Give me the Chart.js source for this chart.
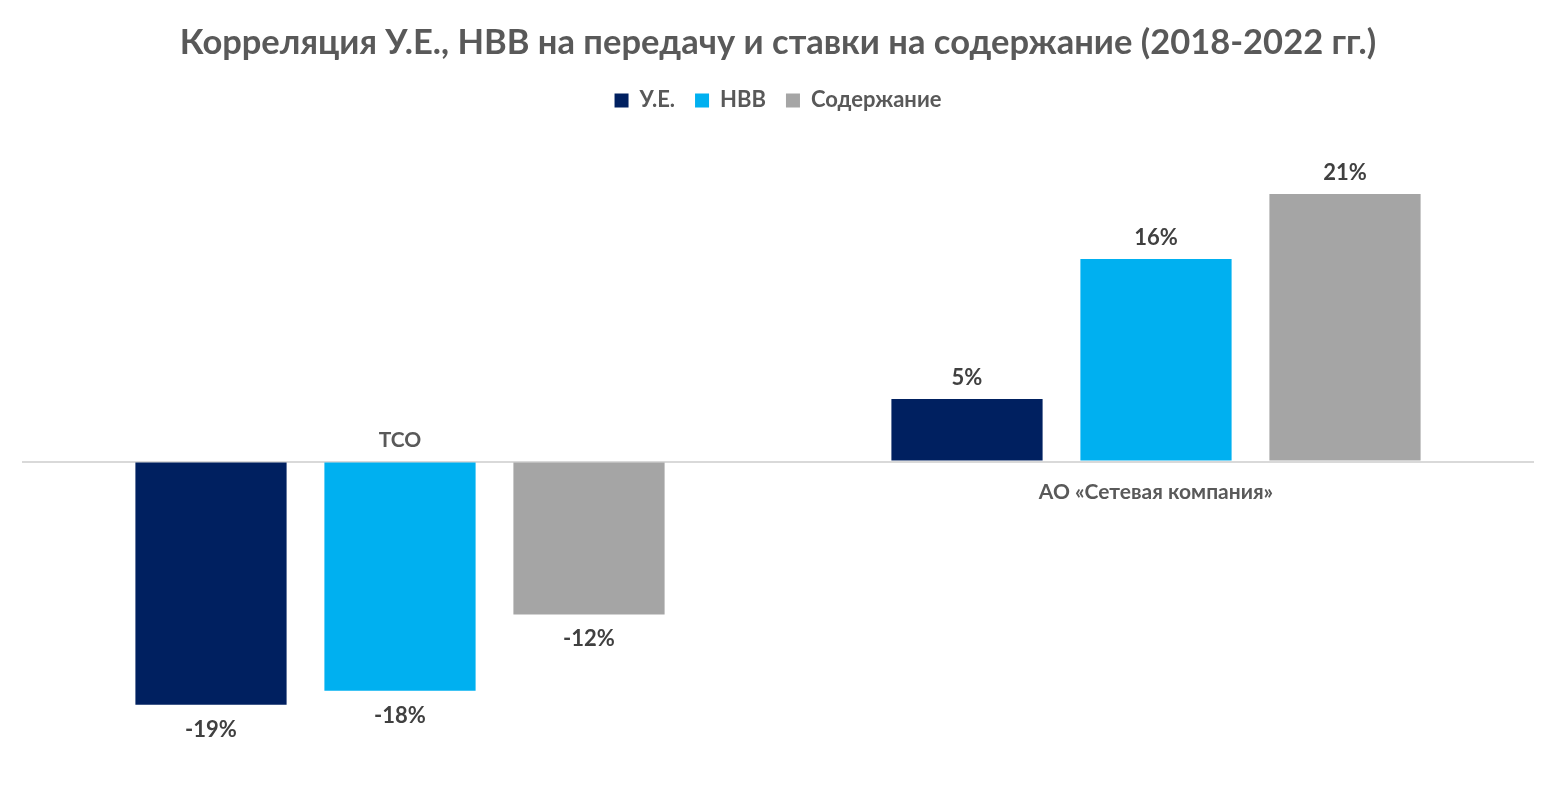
<!DOCTYPE html>
<html><head><meta charset="utf-8">
<script src="https://cdn.jsdelivr.net/npm/chart.js@4.4.1/dist/chart.umd.min.js"></script>
<style>html,body{margin:0;padding:0;background:#fff;}#wrap{width:1557px;height:804px;}</style>
</head><body><div id="wrap"><canvas id="c" width="1557" height="804"></canvas></div>
<script>
const categories = ['ТСО', 'АО «Сетевая компания»'];
const seriesNames = ['У.Е.', 'НВВ', 'Содержание'];
const ueValues = [-19.1, 4.9];
const nvvValues = [-18.0, 15.9];
const soderValues = [-12.0, 21.0];
const titleText = 'Корреляция У.Е., НВВ на передачу и ставки на содержание (2018-2022 гг.)';

const FONT = 'Lato, "Open Sans", sans-serif';
const colors = ['#002060', '#00B0F0', '#A5A5A5'];

const labelPlugin = {
  id: 'labels',
  afterDatasetsDraw(chart) {
    const ctx = chart.ctx;
    ctx.save();
    ctx.font = 'bold 22px ' + FONT;
    ctx.fillStyle = '#404040';
    ctx.textAlign = 'center';
    chart.data.datasets.forEach((ds, i) => {
      const meta = chart.getDatasetMeta(i);
      meta.data.forEach((bar, j) => {
        const v = ds.data[j];
        const txt = Math.round(v) + '%';
        if (v >= 0) { ctx.textBaseline = 'bottom'; ctx.fillText(txt, bar.x, bar.y - 10); }
        else { ctx.textBaseline = 'top'; ctx.fillText(txt, bar.x, bar.y + 14); }
      });
    });
    const xs = chart.scales.x, ys = chart.scales.y;
    const y0 = ys.getPixelForValue(0);
    ctx.font = 'bold 21px ' + FONT;
    ctx.fillStyle = '#595959';
    categories.forEach((c, j) => {
      const x = xs.getPixelForValue(j);
      if (j === 0) { ctx.textBaseline = 'bottom'; ctx.fillText(c, x, y0 - 11); }
      else { ctx.textBaseline = 'top'; ctx.fillText(c, x, y0 + 20); }
    });
    ctx.restore();
  }
};

new Chart(document.getElementById('c'), {
  type: 'bar',
  data: {
    labels: categories,
    datasets: [
      { label: seriesNames[0], data: ueValues, backgroundColor: colors[0] },
      { label: seriesNames[1], data: nvvValues, backgroundColor: colors[1] },
      { label: seriesNames[2], data: soderValues, backgroundColor: colors[2] }
    ]
  },
  options: {
    responsive: false,
    animation: false,
    categoryPercentage: 0.75,
    barPercentage: 0.8,
    layout: { padding: { left: 22, right: 23, top: 22, bottom: 24 } },
    plugins: {
      title: { display: true, text: titleText, color: '#595959', font: { family: FONT, size: 34.5, weight: 'bold' }, padding: { top: 0, bottom: 6 } },
      legend: { display: true, labels: { color: '#595959', font: { family: FONT, size: 22, weight: 'bold' }, boxWidth: 14, boxHeight: 14, padding: 20 } },
      tooltip: { enabled: false }
    },
    scales: {
      x: { display: false },
      y: {
        display: true, min: -25, max: 26.7,
        ticks: { display: false, stepSize: 25 },
        border: { display: false },
        grid: { drawTicks: false, lineWidth: 2, color: (c) => c.tick && c.tick.value === 0 ? '#D9D9D9' : 'rgba(0,0,0,0)' }
      }
    }
  },
  plugins: [labelPlugin]
});
</script></body></html>
